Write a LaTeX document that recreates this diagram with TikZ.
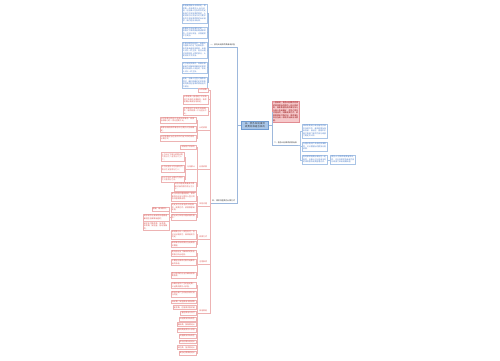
\documentclass[tikz,border=0pt]{standalone}
\usepackage{fontspec}
\newfontfamily\cjk{Noto Sans CJK SC}
\XeTeXlinebreaklocale "zh"
\XeTeXlinebreakskip = 0pt plus 0.5pt
\usetikzlibrary{positioning, calc}

\definecolor{rootfill}{HTML}{A9C6E8}
\definecolor{rootdraw}{HTML}{6F9BD1}
\definecolor{pinkfill}{HTML}{F6C9CB}
\definecolor{pinkdraw}{HTML}{E28C92}
\definecolor{bluetxt}{HTML}{4A7CC9}
\definecolor{blueline}{HTML}{A9C4E6}
\definecolor{redtxt}{HTML}{D9534F}
\definecolor{redline}{HTML}{EDB3B3}
\definecolor{linkblue}{HTML}{9DB8DC}

\newcommand{\mmfont}{\cjk\fontsize{1.9}{2.5}\selectfont}

\begin{document}
\begin{tikzpicture}[
        x=1pt, y=-1pt,
        rootnode/.style={
            rectangle, draw=rootdraw, fill=rootfill, line width=0.4pt,
            text width=24pt, align=center, inner sep=1.5pt,
            font=\cjk\fontsize{2.3}{3}\selectfont, text=black!80
        },
        pinkbox/.style={
            rectangle, draw=pinkdraw, fill=pinkfill, line width=0.4pt,
            text width=25pt, align=left, inner sep=1pt,
            font=\mmfont, text=red!55!black
        },
        bluebox/.style={
            rectangle, draw=blueline, fill=white, line width=0.3pt,
            text width=23pt, align=left, inner sep=1pt,
            font=\mmfont, text=bluetxt
        },
        redbox/.style={
            rectangle, draw=redline, fill=white, line width=0.3pt,
            text width=23pt, align=left, inner sep=1pt,
            font=\mmfont, text=redtxt
        },
        redleaf/.style={
            rectangle, draw=redline, fill=white, line width=0.3pt,
            inner sep=1pt, font=\mmfont, text=redtxt
        },
        topic/.style={
            inner sep=0.8pt, font=\mmfont, text=#1,
            append after command={(\tikzlastnode.south west) edge[draw=linkblue, line width=0.4pt] (\tikzlastnode.south east)}
        },
        topic/.default=black!80,
        subtopic/.style={
            inner sep=0.8pt, font=\mmfont, text=redtxt,
            append after command={(\tikzlastnode.south west) edge[draw=redline, line width=0.4pt] (\tikzlastnode.south east)}
        },
        conn/.style={draw=#1, line width=0.35pt}
    ]
        \useasboundingbox (0,0) rectangle (500,360);

        % Central topic
        \node (root) [rootnode] at (255,125) {五、债务纠纷律师收费标准是怎样的};

        % Right branch
        \node (note) [pinkbox, anchor=north west] at (272,101) {一般来说，债务纠纷案件的律师费按照标的额的一定比例收取，具体数额由律师事务所与当事人协商确定，并签订委托代理合同，明确收费方式、收费数额和付款时间，律师事务所应当统一收取并出具合法票据。};
        \node (fee) [topic, anchor=south west] at (273,145) {二、债务纠纷律师收费标准};
        \node (r1) [bluebox, anchor=north west] at (302,124) {律师收费实行政府指导价和市场调节价，具体收费标准由各省、自治区、直辖市价格主管部门会同司法行政部门制定并公布。};
        \node (r2) [bluebox, below=4pt of r1] {办理涉及财产关系的民事案件，可以根据标的额按比例收费。};
        \node (r3) [bluebox, below=4pt of r2] {各地律师收费标准存在一定差异，当事人可以查询当地的律师服务收费管理办法。};
        \node (r4) [bluebox, right=3pt of r3] {委托人对律师收费有异议的，可以向律师协会或司法行政部门申请调解处理。};

        % Left branch: who pays
        \node (cost) [topic, anchor=south east] at (236,47) {一、债务纠纷律师费谁来承担};
        \node (b1) [bluebox, anchor=north east] at (207,4) {根据我国相关法律规定，律师费一般由委托人自行承担，但当事人在合同中约定由违约方承担律师费的，人民法院可以支持守约方要求违约方承担律师费的诉讼请求，该约定合法有效。};
        \node (b2) [bluebox, below=3.5pt of b1] {如果双方没有事先约定，一般情况下律师费由聘请律师的一方自行承担，法院通常不予支持。};
        \node (b3) [bluebox, below=3.5pt of b2] {在民间借贷纠纷中，出借人与借款人约定了逾期利息、违约金或者其他费用，出借人可以一并主张，但总计超过法律规定上限的部分，人民法院不予支持。};
        \node (b4) [bluebox, below=3.5pt of b3] {对于侵权类案件，如果法律或者司法解释明确规定律师费可由侵权人承担的，权利人可以一并主张。};
        \node (b5) [bluebox, below=3.5pt of b4] {因此，当事人在签订借款合同时，最好明确约定实现债权的费用包括律师费由违约方承担。};

        % Left branch: how fees are counted
        \node (calc) [topic, anchor=south east] at (236,203) {四、律师代理费的计算方式};
        \node (c1) [redleaf, anchor=east] at (208,90) {计件收费};
        \node (c2) [redbox, anchor=north east] at (208,95) {计件收费一般适用于不涉及财产关系的法律事务，每件收费标准由各地规定。};
        \node (c3) [redbox, below=2.5pt of c2] {不涉及财产关系的民事案件，每件收费一千元至五千元。};

        \node (c4) [subtopic, anchor=south east] at (208,130) {计时收费};
        \node (c4a) [redbox, text width=34pt, anchor=east] at (196,120) {计时收费可适用于全部法律事务，收费标准每小时一百元至两千元。};
        \node (c4b) [redbox, text width=34pt, anchor=east] at (196,129.5) {具体标准由律师事务所与委托人协商确定。};
        \node (c4c) [redbox, text width=34pt, anchor=east] at (196,138) {计时收费应当在合同中约定工作时间的计算方式。};

        \node (c5) [subtopic, anchor=south east] at (208,169) {比例收费};
        \node (d1) [redleaf, anchor=east] at (196,147) {涉及财产关系的};
        \node (d2) [subtopic, anchor=south east] at (196,169) {分段累计};
        \node (d2a) [redbox, text width=21pt, anchor=east] at (184,157) {十万元以下部分收费比例为百分之八至百分之十二；};
        \node (d2b) [redbox, text width=21pt, anchor=east] at (184,168.5) {十万元至五十万元部分为百分之五至百分之八；};
        \node (d2c) [redbox, text width=21pt, anchor=east] at (184,179) {五十万元以上部分为百分之三至百分之五。};
        \node (d3) [redbox, text width=20pt, anchor=east] at (196,186.5) {风险代理收费最高不得超过标的额的百分之三十。};

        \node (c6) [subtopic, anchor=south east] at (208,206) {风险代理};
        \node (e1) [redbox, anchor=north east] at (196,192) {实行风险代理收费的，律师事务所应当与委托人签订风险代理收费合同。};
        \node (e2) [redbox, below=2pt of e1] {约定双方应承担的风险责任、收费方式、收费数额或比例。};
        \node (e3) [redbox, anchor=east] at (196,217) {禁止实行风险代理收费的情形：};
        \node (e3a) [redleaf, anchor=east] at (169,209) {婚姻、继承案件；};
        \node (e3b) [redbox, text width=24pt, anchor=east] at (169,217.5) {请求给予社会保险待遇或者最低生活保障待遇的；};
        \node (e3c) [redbox, text width=24pt, anchor=east] at (169,226) {请求支付赡养费、抚养费、扶养费、抚恤金、劳动报酬的。};

        \node (c7) [subtopic, anchor=south east] at (208,239) {收费方式};
        \node (f1) [redbox, anchor=north east] at (196,230) {律师费可以一次性支付，也可以分期支付，具体由双方约定。};
        \node (f2) [redbox, below=2pt of f1] {律师事务所收费应当出具合法票据。};

        \node (c8) [subtopic, anchor=south east] at (208,264) {注意事项};
        \node (h1) [redbox, anchor=north east] at (196,250) {委托前应当了解律师的执业资格与执业经验。};
        \node (h2) [redbox, below=2.5pt of h1] {不要轻信律师对案件结果作出的承诺。};
        \node (h3) [redbox, below=6pt of h2] {签订合同时应当仔细阅读收费条款。};

        \node (c9) [subtopic, anchor=south east] at (208,313) {其他费用};
        \node (g1) [redbox, anchor=north east] at (196,282) {办案过程中产生的鉴定费、公证费由委托人承担。};
        \node (g2) [redbox, below=2pt of g1] {异地办案产生的差旅费可另行约定。};
        \foreach \t [count=\i] in {诉讼费、保全费由法院收取, 差旅费、住宿费实报实销, 鉴定费另行支付, 公证费按实际发生, 翻译费、复制费另计, 查档费由委托人承担, 交通费按实际发生, 异地办案补贴另计, 评估费、拍卖费另计, 其他必要费用另计}
            \node (g\i x) [redleaf, anchor=east] at (196,296+\i*5.7) {\t};

        % Connectors
        \draw [conn=linkblue] (root.east) -- ++(3,0) |- (note.west);
        \draw [conn=linkblue] (root.east) -- ++(3,0) |- (fee.south west);
        \foreach \n in {r1,r2,r3}
            \draw [conn=blueline] (fee.south east) -- ++(2,0) |- (\n.west);
        \draw [conn=blueline] (r3) -- (r4);

        \draw [conn=linkblue] (root.west) -- ++(-4,0) |- (cost.south east);
        \draw [conn=linkblue] (root.west) -- ++(-4,0) |- (calc.south east);
        \foreach \n in {b1,b2,b3,b4,b5}
            \draw [conn=linkblue] (cost.south west) -- ++(-1.5,0) |- (\n.east);

        \foreach \n in {c1,c2,c3}
            \draw [conn=redline] (calc.south west) -- ++(-1.5,0) |- (\n.east);
        \foreach \n in {c4,c5,c6,c7,c8,c9}
            \draw [conn=redline] (calc.south west) -- ++(-1.5,0) |- (\n.south east);
        \foreach \n in {c4a,c4b,c4c}
            \draw [conn=redline] (c4.south west) -- ++(-1.2,0) |- (\n.east);
        \foreach \n in {d1,d3}
            \draw [conn=redline] (c5.south west) -- ++(-1.2,0) |- (\n.east);
        \draw [conn=redline] (c5.south west) -- ++(-1.2,0) |- (d2.south east);
        \foreach \n in {d2a,d2b,d2c}
            \draw [conn=redline] (d2.south west) -- ++(-1.2,0) |- (\n.east);
        \foreach \n in {e1,e2,e3}
            \draw [conn=redline] (c6.south west) -- ++(-1.2,0) |- (\n.east);
        \foreach \n in {e3a,e3b,e3c}
            \draw [conn=redline] (e3.west) -- ++(-1.2,0) |- (\n.east);
        \foreach \n in {f1,f2}
            \draw [conn=redline] (c7.south west) -- ++(-1.2,0) |- (\n.east);
        \foreach \n in {h1,h2,h3}
            \draw [conn=redline] (c8.south west) -- ++(-1.2,0) |- (\n.east);
        \foreach \n in {g1,g2,g1x,g2x,g3x,g4x,g5x,g6x,g7x,g8x,g9x,g10x}
            \draw [conn=redline] (c9.south west) -- ++(-1.2,0) |- (\n.east);
    \end{tikzpicture}
\end{document}
